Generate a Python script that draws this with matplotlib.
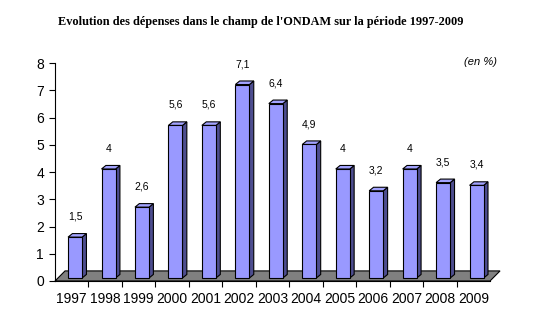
import matplotlib
matplotlib.use('Agg')
import matplotlib.pyplot as plt
from matplotlib.patches import Polygon

# ------------------------------------------------------ #
# Data
# ------------------------------------------------------ #
years = ['1997', '1998', '1999', '2000', '2001', '2002', '2003',
         '2004', '2005', '2006', '2007', '2008', '2009']
values = [1.5, 4.0, 2.6, 5.6, 5.6, 7.1, 6.4, 4.9, 4.0, 3.2, 4.0, 3.5, 3.4]
labels = ['1,5', '4', '2,6', '5,6', '5,6', '7,1', '6,4',
          '4,9', '4', '3,2', '4', '3,5', '3,4']

# ------------------------------------------------------ #
# Style
# ------------------------------------------------------ #
plt.rcParams['font.family'] = ['Liberation Sans', 'DejaVu Sans']
front_col = '#9999FF'
top_col = '#A3A3FF'
side_col = '#4D4D8F'
floor_col = '#808080'

W, H = 540, 322
fig = plt.figure(figsize=(W / 100, H / 100), dpi=100)
ax = fig.add_axes([55 / W, 1 - 281 / H, 435 / W, 218 / H])
ax.set_xlim(-0.5, 12.5)
ax.set_ylim(0, 8)

# 3D offsets in data units
base = 0.11        # bars sit a bit behind the front edge
shift = 0.10       # horizontal shift of front face
bw = 0.42          # bar width
ddx, ddy = 0.13, 0.13   # bar depth
fdx, fdy = 0.30, 0.37   # floor depth

# floor
floor = Polygon([(-0.5, 0), (12.5, 0), (12.5 + fdx, fdy), (-0.5 + fdx, fdy)],
                closed=True, facecolor=floor_col, edgecolor='black', lw=0.8,
                clip_on=False, zorder=1)
ax.add_patch(floor)

xs = list(range(len(years)))
ax.bar([x + shift for x in xs], values, bottom=base, width=bw,
       color=front_col, edgecolor='black', lw=0.8, zorder=3)

for x, v, lab in zip(xs, values, labels):
    left = x + shift - bw / 2
    right = x + shift + bw / 2
    top = base + v
    side = Polygon([(right, base), (right + ddx, base + ddy),
                    (right + ddx, top + ddy), (right, top)],
                   closed=True, facecolor=side_col, edgecolor='black',
                   lw=0.8, zorder=2)
    cap = Polygon([(left, top), (right, top), (right + ddx, top + ddy),
                   (left + ddx, top + ddy)],
                  closed=True, facecolor=top_col, edgecolor='black',
                  lw=0.8, zorder=2)
    ax.add_patch(side)
    ax.add_patch(cap)
    ax.text(x + shift, top + 0.75, lab, ha='center', va='center',
            fontsize=7.5)

# axes
for s in ['top', 'right']:
    ax.spines[s].set_visible(False)
ax.spines['left'].set_linewidth(0.8)
ax.spines['bottom'].set_linewidth(0.8)
ax.spines['bottom'].set_zorder(4)

ax.set_yticks(range(0, 9))
ax.tick_params(axis='y', direction='out', length=4, width=0.8,
               labelsize=10, pad=4)
ax.set_xticks(xs)
ax.set_xticklabels(years)
ax.set_xticks([x + 0.5 for x in xs[:-1]], minor=True)
ax.tick_params(axis='x', which='major', length=0, labelsize=10, pad=8)
ax.tick_params(axis='x', which='minor', direction='out', length=4, width=0.8)

# titles
fig.text(261 / W, 1 - 22 / H,
         "Evolution des dépenses dans le champ de l'ONDAM sur la période 1997-2009",
         ha='center', va='center', fontsize=8.8, fontweight='bold',
         family=['Liberation Serif', 'DejaVu Serif'])
fig.text(480 / W, 1 - 62 / H, '(en %)', ha='center', va='center',
         fontsize=8, style='italic')

fig.savefig('out.png', dpi=100)
